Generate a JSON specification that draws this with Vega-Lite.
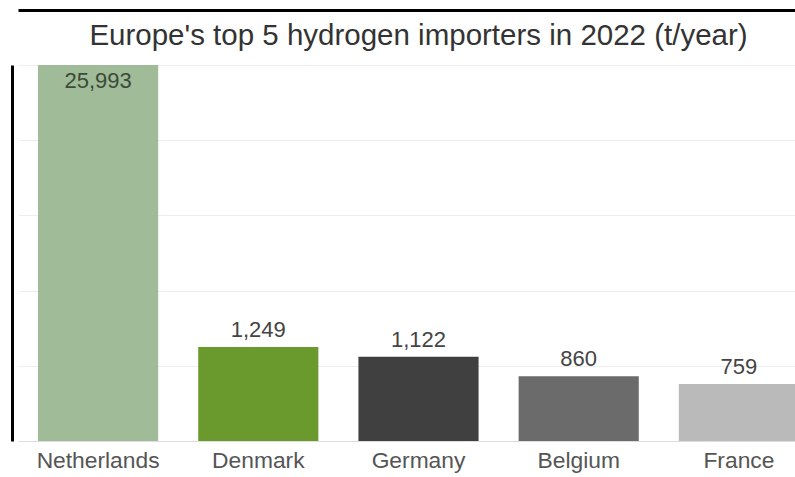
{
  "$schema": "https://vega.github.io/schema/vega-lite/v6.json",
  "autosize": "none",
  "width": 801,
  "height": 376,
  "padding": {"left": 18, "top": 65, "right": 0, "bottom": 36},
  "background": "white",
  "config": {
    "view": {"stroke": null},
    "font": "Liberation Sans",
    "text": {"font": "Liberation Sans"}
  },
  "title": {
    "text": "Europe's top 5 hydrogen importers in 2022 (t/year)",
    "fontSize": 29.5,
    "fontWeight": "normal",
    "color": "#333333",
    "anchor": "middle",
    "font": "Liberation Sans",
    "offset": -41
  },
  "data": {
    "values": [
      {"country": "Netherlands", "value": 25993},
      {"country": "Denmark", "value": 1249},
      {"country": "Germany", "value": 1122},
      {"country": "Belgium", "value": 860},
      {"country": "France", "value": 759}
    ]
  },
  "resolve": {"axis": {"x": "independent"}},
  "layer": [
    {
      "mark": {"type": "bar"},
      "encoding": {
        "x": {
          "field": "country",
          "type": "nominal",
          "sort": null,
          "scale": {"paddingInner": 0.25, "paddingOuter": 0.125},
          "axis": {
            "title": null,
            "labelAngle": 0,
            "labelFontSize": 22.8,
            "labelColor": "#555555",
            "labelFont": "Liberation Sans",
            "labelPadding": 8,
            "ticks": false,
            "domainColor": "#dddddd",
            "domainWidth": 1
          }
        },
        "y": {
          "field": "value",
          "type": "quantitative",
          "scale": {"domain": [0, 5000], "clamp": true, "nice": false},
          "axis": {
            "title": null,
            "labels": false,
            "ticks": false,
            "values": [0, 1000, 2000, 3000, 4000, 5000],
            "grid": true,
            "gridColor": "#eeeeee",
            "domain": true,
            "domainColor": "#000000",
            "domainWidth": 3,
            "offset": 6
          }
        },
        "color": {
          "field": "country",
          "type": "nominal",
          "legend": null,
          "scale": {
            "domain": ["Netherlands", "Denmark", "Germany", "Belgium", "France"],
            "range": ["#9fbb97", "#6a9a2e", "#404040", "#6b6b6b", "#bababa"]
          }
        }
      }
    },
    {
      "transform": [{"filter": "datum.country === 'Netherlands'"}],
      "mark": {"type": "text", "fontSize": 22, "baseline": "alphabetic", "dy": 23, "color": "#3c4a3a"},
      "encoding": {
        "x": {
          "field": "country",
          "type": "nominal",
          "sort": null,
          "axis": {
            "orient": "top",
            "offset": 55,
            "title": null,
            "labels": false,
            "ticks": false,
            "grid": false,
            "domain": true,
            "domainColor": "#000000",
            "domainWidth": 3
          }
        },
        "y": {"field": "value", "type": "quantitative"},
        "text": {"field": "value", "type": "quantitative", "format": ","}
      }
    },
    {
      "transform": [{"filter": "datum.country !== 'Netherlands'"}],
      "mark": {"type": "text", "fontSize": 22, "baseline": "alphabetic", "dy": -10, "color": "#444444"},
      "encoding": {
        "x": {"field": "country", "type": "nominal", "sort": null, "axis": null},
        "y": {"field": "value", "type": "quantitative"},
        "text": {"field": "value", "type": "quantitative", "format": ","}
      }
    }
  ]
}
